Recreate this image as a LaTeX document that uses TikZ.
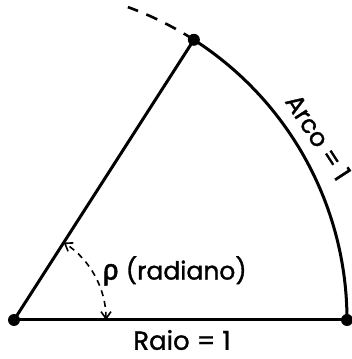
\documentclass[tikz,border=0pt]{standalone}
\usepackage{fontspec}
\setmainfont{Poppins}[FakeBold=1.3]
\newfontfamily\grk{Fira Sans}[FakeBold=1.3]
\usetikzlibrary{arrows.meta}
\begin{document}
\begin{tikzpicture}[x=1pt,y=1pt,
  dot/.style={circle,fill=black,inner sep=0pt,minimum size=12pt},
  edge/.style={line width=3pt},
  lbl/.style={font=\fontsize{25}{28}\selectfont,inner sep=0pt}]
\useasboundingbox (0,0) rectangle (351,359);
\coordinate (C) at (14,39);
\draw[edge] (C) -- ++(0:333) coordinate (R);
\draw[edge] (C) -- ++(57.3:333) coordinate (T);
\draw[edge] (R) arc[start angle=0,end angle=57.3,radius=333];
\draw[line width=2.6pt,dash pattern=on 12pt off 9pt] (T) arc[start angle=57.3,end angle=70,radius=333] coordinate (E);
\node[dot] (O) at (C) {};
\node[dot] (A) at (R) {};
\node[dot] (B) at (T) {};
\draw[line width=1.6pt,dash pattern=on 6pt off 5pt,{Straight Barb[length=7pt,width=10pt]}-{Straight Barb[length=7pt,width=10pt]}]
  ([shift={(0:92)}]C) arc[start angle=0,end angle=57.3,radius=92];
\node[lbl,anchor=west] (rho) at (102,88) {{\grk\fontsize{29}{30}\selectfont ρ} (radiano)};
\node[lbl,font=\fontsize{26}{30}\selectfont] (raio) at (182,19) {Raio = 1};
\node[lbl,rotate=-57] (arco) at ([shift={(31:355)}]C) {Arco = 1};
\end{tikzpicture}
\end{document}
